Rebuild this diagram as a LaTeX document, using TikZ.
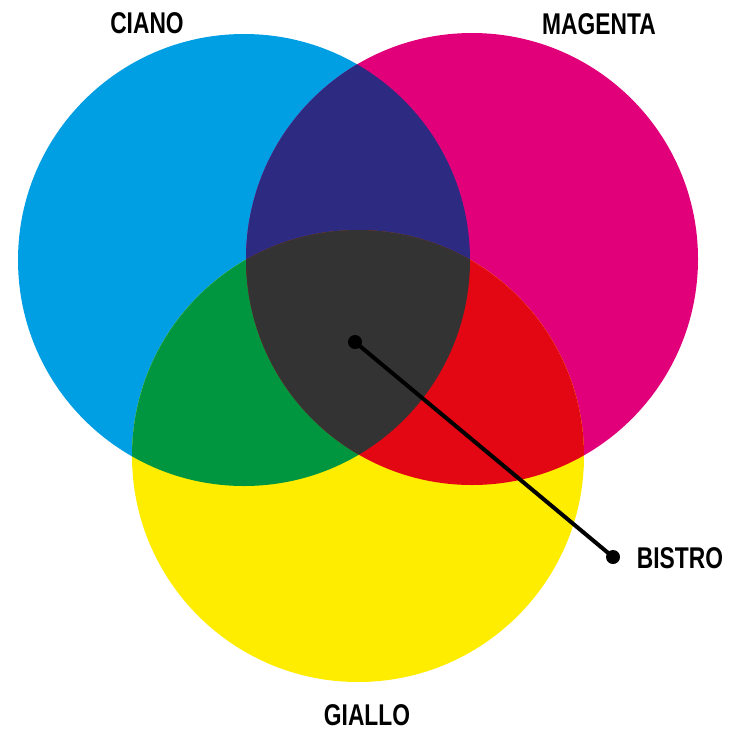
\documentclass[tikz,border=0pt]{standalone}
\usepackage{fontspec}
\usepackage{graphicx}
\setmainfont{Liberation Sans}
\definecolor{cC}{HTML}{009FE3}
\definecolor{cM}{HTML}{E2007A}
\definecolor{cY}{HTML}{FFED00}
\definecolor{cCM}{HTML}{2D2A82}
\definecolor{cCY}{HTML}{009640}
\definecolor{cMY}{HTML}{E30613}
\definecolor{cK}{HTML}{333333}
\tikzset{
  lab/.style={font=\fontsize{30}{30}\selectfont\bfseries, text=black, inner sep=0pt, anchor=center},
  dotnode/.style={circle, fill=black, minimum size=14pt, inner sep=0pt},
}
\newcommand{\cond}[1]{\scalebox{0.76}[1]{#1}}
\begin{document}
\begin{tikzpicture}[x=1pt,y=-1pt]
\useasboundingbox (0,0) rectangle (735,731);
\fill[white] (0,0) rectangle (735,731);
\def\CC{(244,260) circle[radius=226]}
\def\MM{(472,259) circle[radius=226]}
\def\YY{(358,456) circle[radius=226]}
\fill[cC] \CC;
\fill[cM] \MM;
\fill[cY] \YY;
\begin{scope}\clip \CC; \fill[cCM] \MM; \end{scope}
\begin{scope}\clip \CC; \fill[cCY] \YY; \end{scope}
\begin{scope}\clip \MM; \fill[cMY] \YY; \end{scope}
\begin{scope}\clip \CC; \clip \MM; \fill[cK] \YY; \end{scope}
\node[lab] (ciano) at (147,23) {\cond{CIANO}};
\node[lab] (magenta) at (599,24) {\cond{MAGENTA}};
\node[lab] (bistro) at (680,558) {\cond{BISTRO}};
\node[lab] (giallo) at (367,715) {\cond{GIALLO}};
\node[dotnode] (d1) at (355,342) {};
\node[dotnode] (d2) at (613,557) {};
\draw[line width=4pt] (d1.center) -- (d2.center);
\end{tikzpicture}
\end{document}
